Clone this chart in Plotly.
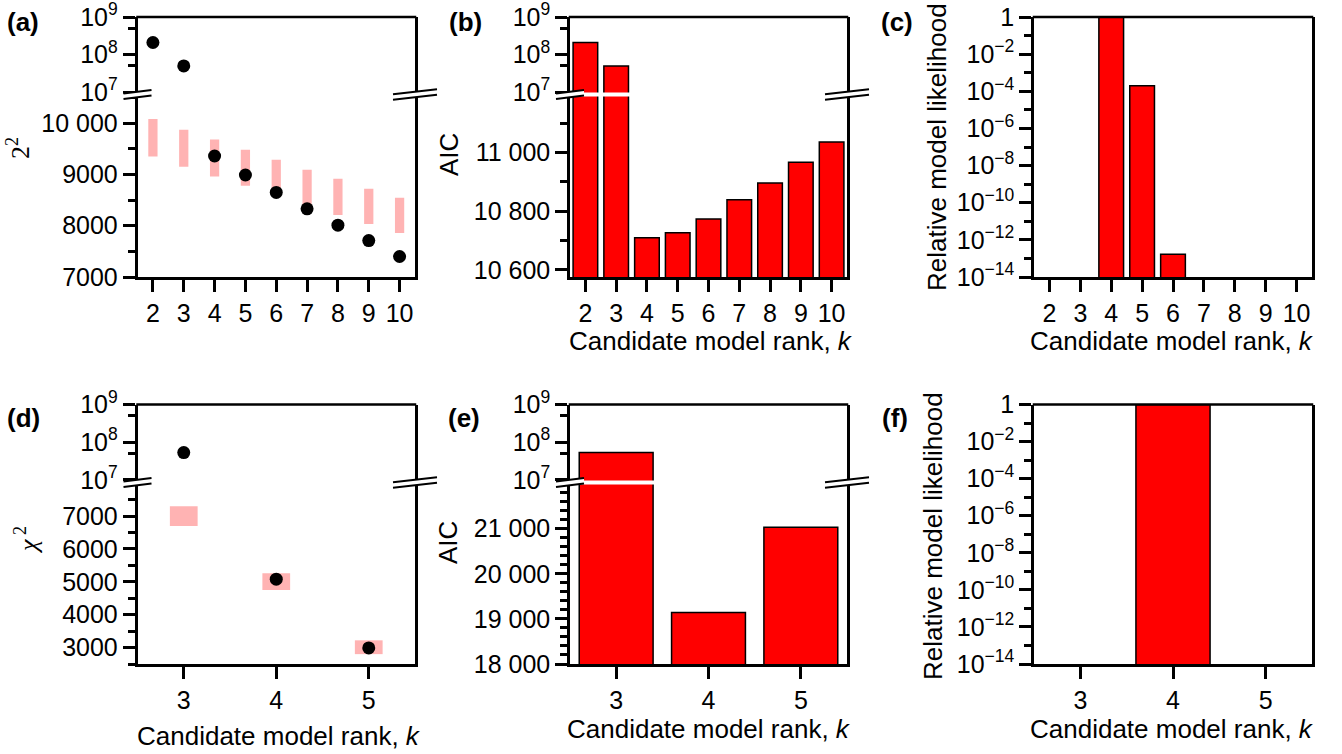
import plotly.graph_objects as go

W, H = 1342, 754
def fx(p):
    return p / W
def fy(p):
    return 1 - p / H

FONT = "Liberation Sans"
SERIF = "Liberation Serif"
RED = "#ff0000"
PINK = "#ffb3b3"

# ---------------- data ----------------
k_top = [2, 3, 4, 5, 6, 7, 8, 9, 10]
chi2_top = [2.1e8, 5.0e7, 9360, 8990, 8650, 8330, 8010, 7710, 7400]
chi2_top_lo = [9350, 9150, 8960, 8780, 8585, 8390, 8210, 8035, 7860]
chi2_top_hi = [10080, 9870, 9680, 9480, 9285, 9090, 8915, 8720, 8545]
aic_top = [2.1e8, 5.0e7, 10710, 10727, 10774, 10839, 10896, 10967, 11036]
rel_top = [None, None, 1.0, 2.0e-4, 1.7e-13, None, None, None, None]

k_bot = [3, 4, 5]
chi2_bot = [5.3e7, 5080, 2990]
chi2_bot_lo = [6700, 4750, 2800]
chi2_bot_hi = [7300, 5260, 3220]
aic_bot = [5.3e7, 19140, 21030]
rel_bot = [None, 1.0, None]

# tick labels
log_hi_vals = [1e7, 1e8, 1e9]
log_hi_text = ["10<sup>7</sup>", "10<sup>8</sup>", "10<sup>9</sup>"]
log_hi_minor = [5e7, 5e8]
rel_vals = [10.0 ** e for e in range(-14, 1, 2)]
rel_text = ["10<sup>\u2212%d</sup>" % (-e) for e in range(-14, 0, 2)] + ["1"]
rel_minor = [10.0 ** e for e in range(-13, 0, 2)]

a_vals = [7000, 8000, 9000, 10000]
a_text = ["7000", "8000", "9000", "10 000"]
a_minor = [7500, 8500, 9500, 10500]
b_vals = [10600, 10800, 11000]
b_text = ["10 600", "10 800", "11 000"]
b_minor = [10700, 10900, 11100]
d_vals = [3000, 4000, 5000, 6000, 7000]
d_text = ["3000", "4000", "5000", "6000", "7000"]
d_minor = [2500, 3500, 4500, 5500, 6500, 7500]
e_vals = [18000, 19000, 20000, 21000]
e_text = ["18 000", "19 000", "20 000", "21 000"]
e_minor = list(range(18200, 22001, 200))

# ---------------- geometry (pixels) ----------------
COLS = [(137.5, 415.0), (570.0, 847.0), (1034.0, 1312.0)]
ROWS = [(17.0, 94.5, 277.0), (404.5, 482.5, 664.0)]

tickfont = dict(family=FONT, size=25, color="black")
common = dict(showline=True, linecolor="black", linewidth=2.5, ticks="outside",
              ticklen=12, tickwidth=2.5, tickcolor="black", showgrid=False,
              zeroline=False, tickfont=tickfont, automargin=False,
              ticklabeloverflow="allow")

def xax(col, rng, vals, anchor):
    x0, x1 = COLS[col]
    return dict(common, domain=[fx(x0), fx(x1)], anchor=anchor, range=rng,
                tickmode="array", tickvals=vals, ticktext=[str(v) for v in vals])

def ylin(top_px, bot_px, rng, vals, text, minor, anchor):
    return dict(common, domain=[fy(bot_px), fy(top_px)], anchor=anchor, range=rng,
                tickmode="array", tickvals=vals, ticktext=text, mirror=True,
                minor=dict(tickmode="array", tickvals=minor, ticklen=7, tickwidth=2.5,
                           tickcolor="black", ticks="outside"))

def ylog(top_px, bot_px, rng, vals, text, minor, anchor):
    d = ylin(top_px, bot_px, rng, vals, text, minor, anchor)
    d["type"] = "log"
    return d

layout = dict(width=W, height=H, margin=dict(l=0, r=0, t=0, b=0), autosize=False,
              paper_bgcolor="white", plot_bgcolor="white", showlegend=False,
              barmode="overlay")

(t0, b0, m0), (t1, b1, m1) = ROWS

# (a)
layout["xaxis"] = xax(0, [1.5, 10.5], k_top, "y")
layout["yaxis"] = ylin(b0, m0, [7000, 10560], a_vals, a_text, a_minor, "x")
layout["yaxis2"] = ylog(t0, b0, [6.94, 9], log_hi_vals, log_hi_text, log_hi_minor, "x")
# (b)
layout["xaxis2"] = xax(1, [1.5, 10.5], k_top, "y3")
layout["yaxis3"] = ylin(b0, m0, [10576, 11198], b_vals, b_text, b_minor, "x2")
layout["yaxis4"] = ylog(t0, b0, [6.94, 9], log_hi_vals, log_hi_text, log_hi_minor, "x2")
# (c)
layout["xaxis3"] = xax(2, [1.5, 10.5], k_top, "y5")
layout["yaxis5"] = ylog(t0, m0, [-14, 0], rel_vals, rel_text, rel_minor, "x3")
# (d)
layout["xaxis4"] = xax(0, [2.5, 5.5], k_bot, "y6")
layout["yaxis6"] = ylin(b1, m1, [2500, 8020], d_vals, d_text, d_minor, "x4")
layout["yaxis7"] = ylog(t1, b1, [6.93, 9], log_hi_vals, log_hi_text, log_hi_minor, "x4")
# (e)
layout["xaxis5"] = xax(1, [2.5, 5.5], k_bot, "y8")
layout["yaxis8"] = ylin(b1, m1, [18000, 22024], e_vals, e_text, e_minor, "x5")
layout["yaxis9"] = ylog(t1, b1, [6.93, 9], log_hi_vals, log_hi_text, log_hi_minor, "x5")
# (f)
layout["xaxis6"] = xax(2, [2.5, 5.5], k_bot, "y10")
layout["yaxis10"] = ylog(t1, m1, [-14, 0], rel_vals, rel_text, rel_minor, "x6")

fig = go.Figure(layout=layout)

def pink_bars(k, lo, hi, xa, ya):
    fig.add_trace(go.Bar(x=k, base=lo, y=[h - l for h, l in zip(hi, lo)], width=0.3,
                         marker=dict(color=PINK, line=dict(width=0)), xaxis=xa, yaxis=ya))

def dots(k, v, xa, ya):
    fig.add_trace(go.Scatter(x=k, y=v, mode="markers", cliponaxis=True,
                             marker=dict(color="black", size=13), xaxis=xa, yaxis=ya))

def red_bars(k, v, xa, ya, base=None):
    fig.add_trace(go.Bar(x=k, y=v, base=base, width=0.8, offset=-0.4,
                         marker=dict(color=RED, line=dict(color="black", width=1.5)),
                         xaxis=xa, yaxis=ya))

# (a)
pink_bars(k_top, chi2_top_lo, chi2_top_hi, "x", "y")
dots(k_top, chi2_top, "x", "y")
dots(k_top, chi2_top, "x", "y2")
# (b)
red_bars(k_top, aic_top, "x2", "y3")
red_bars(k_top, aic_top, "x2", "y4", base=1e5)
# (c)
red_bars(k_top, rel_top, "x3", "y5", base=1e-20)
# (d)
pink_bars(k_bot, chi2_bot_lo, chi2_bot_hi, "x4", "y6")
dots(k_bot, chi2_bot, "x4", "y6")
dots(k_bot, chi2_bot, "x4", "y7")
# (e)
red_bars(k_bot, aic_bot, "x5", "y8")
red_bars(k_bot, aic_bot, "x5", "y9", base=1e5)
# (f)
red_bars(k_bot, rel_bot, "x6", "y10", base=1e-20)

shapes = []
def line_px(x0, y0, x1, y1, w=2.5, color="black"):
    shapes.append(dict(type="line", xref="paper", yref="paper", x0=fx(x0), y0=fy(y0),
                       x1=fx(x1), y1=fy(y1), line=dict(color=color, width=w), layer="above"))

def poly_px(pts, fill="white"):
    path = "M " + " L ".join("%f,%f" % (fx(x), fy(y)) for x, y in pts) + " Z"
    shapes.append(dict(type="path", xref="paper", yref="paper", path=path,
                       fillcolor=fill, line=dict(width=0), layer="above"))

def break_mark(xc, yc, half, rise, gap=5.5):
    xa, xb = xc - half, xc + half
    up0, up1 = yc - gap / 2 + rise / 2, yc - gap / 2 - rise / 2
    lo0, lo1 = yc + gap / 2 + rise / 2, yc + gap / 2 - rise / 2
    poly_px([(xa, up0), (xb, up1), (xb, lo1), (xa, lo0)])
    line_px(xa, up0, xb, up1, w=2)
    line_px(xa, lo0, xb, lo1, w=2)

# top frame lines
for (x0, x1) in COLS:
    for (tp, bk, bt) in ROWS:
        line_px(x0 - 1.25, tp, x1 + 1.25, tp)

# axis breaks
for ci in (0, 1):
    x0, x1 = COLS[ci]
    for (tp, bk, bt) in ROWS:
        poly_px([(x0, bk - 2), (x1, bk - 2), (x1, bk + 2), (x0, bk + 2)])
        break_mark(x0, bk, 14, 3.5)
        break_mark(x1, bk, 22, 5)

fig.update_layout(shapes=shapes)

def ann(text, x, y, size=26, family=FONT, angle=0, bold=False):
    if bold:
        text = "<b>" + text + "</b>"
    fig.add_annotation(text=text, x=fx(x), y=fy(y), xref="paper", yref="paper",
                       showarrow=False, xanchor="center", yanchor="middle",
                       textangle=angle, font=dict(family=family, size=size, color="black"))

ann("(a)", 22.5, 22, size=26, bold=True)
ann("(b)", 465, 22, size=26, bold=True)
ann("(c)", 897, 22, size=26, bold=True)
ann("(d)", 23.5, 418, size=26, bold=True)
ann("(e)", 464, 418, size=26, bold=True)
ann("(f)", 894.5, 418, size=26, bold=True)

ann("2<sup>2</sup>", 18, 148, family=SERIF, angle=-90)
ann("AIC", 449, 155, angle=-90)
ann("Relative model likelihood", 937, 147, angle=-90)
ann("<i>\u03c7</i><sup> 2</sup>", 26, 540, family=SERIF, angle=-90)
ann("AIC", 448, 543, angle=-90)
ann("Relative model likelihood", 933, 536, angle=-90)

xt = "Candidate model rank, <i>k</i>"
ann(xt, 711, 341)
ann(xt, 1172, 341)
ann(xt, 279, 736)
ann(xt, 709, 729)
ann(xt, 1172, 729)

fig.write_html("out.html")
